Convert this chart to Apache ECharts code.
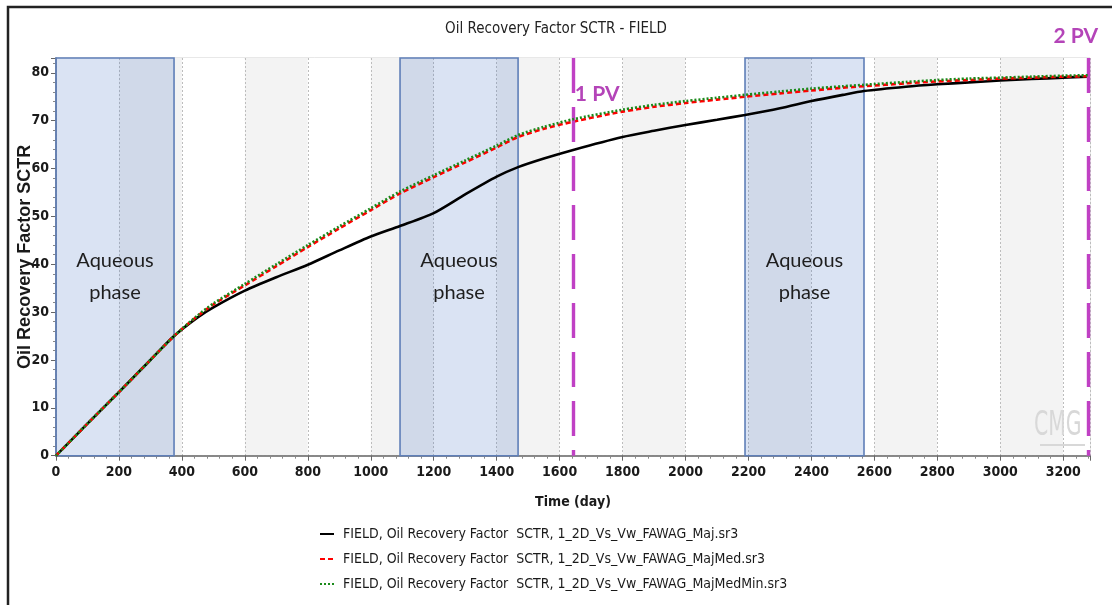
<!DOCTYPE html>
<html><head><meta charset="utf-8">
<script src="https://cdn.jsdelivr.net/npm/echarts@6/dist/echarts.min.js"></script>
<style>html,body{margin:0;padding:0;background:#fff}#c{width:1112px;height:605px}</style>
</head><body><div id="c"></div>
<script>
// ---- data ----
const days = [0,100,200,300,375,450,500,600,700,800,900,1000,1093,1200,1300,1400,1468,1550,1643,1800,1900,2000,2100,2189,2300,2400,2500,2567,2700,2800,2900,3000,3100,3200,3278];
const majValues = [0,6.7,13.3,20.0,25.0,28.9,31.0,34.5,37.3,39.9,42.9,45.8,48.0,50.7,54.6,58.3,60.3,62.1,63.9,66.6,67.9,69.1,70.2,71.2,72.6,74.1,75.4,76.2,77.1,77.6,78.0,78.4,78.7,79.0,79.2];
const majMedValues = [0,6.7,13.3,20.0,25.0,29.2,31.6,35.6,39.6,43.6,47.5,51.3,54.8,58.2,61.3,64.4,66.6,68.3,69.8,71.9,72.9,73.7,74.4,75.0,75.7,76.3,76.9,77.2,77.8,78.2,78.5,78.8,79.0,79.2,79.3];
const majMedMinValues = [0,6.7,13.3,20.0,25.0,29.3,31.8,35.9,40.0,44.0,47.9,51.7,55.2,58.6,61.7,64.8,67.0,68.7,70.3,72.3,73.3,74.1,74.8,75.4,76.1,76.7,77.2,77.5,78.1,78.5,78.8,79.0,79.2,79.4,79.5];
const seriesNames = [
  'FIELD, Oil Recovery Factor  SCTR, 1_2D_Vs_Vw_FAWAG_Maj.sr3',
  'FIELD, Oil Recovery Factor  SCTR, 1_2D_Vs_Vw_FAWAG_MajMed.sr3',
  'FIELD, Oil Recovery Factor  SCTR, 1_2D_Vs_Vw_FAWAG_MajMedMin.sr3'
];
const aqueousPhases = [[0,375],[1093,1468],[2189,2567]];
const aqueousLabel = 'Aqueous\nphase';
const pvMarkers = [{day:1643,label:'1 PV'},{day:3278,label:'2 PV'}];
const titleText = 'Oil Recovery Factor SCTR - FIELD';
const xName = 'Time (day)';
const yName = 'Oil Recovery Factor SCTR';
const xMin = 0, xMax = 3285, xStep = 200;
const yMin = 0, yMax = 83.1, yStep = 10;

// ---- chart ----
const NARROW = "'Liberation Sans Narrow','Arial Narrow','DejaVu Sans Condensed',sans-serif";
const chart = echarts.init(document.getElementById('c'), null, {renderer:'canvas'});
const pair = (arr) => days.map((d,i)=>[d,arr[i]]);
const lineColors = ['#000000','#ff0000','#1a8a1a'];
const lineTypes = ['solid',[5,3],[2,2]];
const vals = [majValues, majMedValues, majMedMinValues];

const series = [{
  type:'line', name:'_boxes', data:[[0,0]], symbol:'none', silent:true, z:1,
  lineStyle:{opacity:0},
  markArea:{
    silent:true,
    itemStyle:{color:'rgba(68,114,196,0.2)', borderColor:'#5f7fb8', borderWidth:1.6},
    label:{show:true, position:'inside', offset:[0,20], color:'#1e1e1e', fontFamily:'Lato, sans-serif', fontSize:20, lineHeight:32},
    data: aqueousPhases.map(p=>[{xAxis:p[0], yAxis:yMin, name:aqueousLabel},{xAxis:p[1], yAxis:yMax}])
  }
}];
vals.forEach((v,i)=>series.push({
  type:'line', name:seriesNames[i], data:pair(v), symbol:'none', smooth:0.25, z:3+i,
  lineStyle:{color:lineColors[i], width:2.6, type:lineTypes[i]},
  itemStyle:{color:lineColors[i]}
}));
series.push({
  type:'line', name:'_pv', data:[[0,0]], symbol:'none', silent:true, z:10,
  lineStyle:{opacity:0},
  markLine:{
    silent:true, symbol:['none','none'], animation:false,
    lineStyle:{color:'#c040c4', width:3.4, type:[35,14]},
    label:{show:false},
    data: pvMarkers.map(m=>[{coord:[m.day,yMax]},{coord:[m.day,yMin]}])
  }
});

const plain = v => String(v);
const option = {
  animation:false,
  backgroundColor:'#ffffff',
  title:{text:titleText, left:'center', top:17, textStyle:{fontFamily:NARROW, fontSize:15, fontWeight:'normal', color:'#222'}},
  grid:{left:56, right:22, top:58, bottom:149.3, containLabel:false, outerBoundsMode:'none', show:true, borderColor:'#d0d0d0', borderWidth:1, backgroundColor:'#fff'},
  legend:{
    orient:'vertical', left:314, top:522, itemWidth:14, itemHeight:14, itemGap:11,
    data:seriesNames, selectedMode:false,
    itemStyle:{opacity:0},
    textStyle:{fontFamily:NARROW, fontSize:14, color:'#1a1a1a', padding:[0,0,0,4]}
  },
  xAxis:{
    type:'value', min:xMin, max:xMax, interval:xStep,
    name:xName, nameLocation:'middle', nameGap:40,
    nameTextStyle:{fontFamily:NARROW, fontSize:14, fontWeight:'bold', color:'#1a1a1a'},
    axisLine:{show:true, onZero:false, lineStyle:{color:'#666', width:1.5}},
    axisTick:{show:true, length:5, lineStyle:{color:'#666'}},
    minorTick:{show:true, splitNumber:5, length:3, lineStyle:{color:'#888'}},
    axisLabel:{showMaxLabel:false, margin:10, formatter:plain, fontFamily:NARROW, fontSize:14, fontWeight:'bold', color:'#1a1a1a'},
    splitLine:{show:true, lineStyle:{color:'#bdbdbd', type:[2,2], width:1}},
    splitArea:{show:true, areaStyle:{color:['#ffffff','#f3f3f3']}}
  },
  yAxis:{
    type:'value', min:yMin, max:yMax, interval:yStep,
    name:yName, nameLocation:'middle', nameGap:22, nameRotate:90, nameMoveOverlap:false,
    nameTextStyle:{fontFamily:"'Liberation Sans',Arial,sans-serif", fontSize:18, fontWeight:'bold', color:'#1a1a1a'},
    axisLine:{show:true, onZero:false, lineStyle:{color:'#777', width:1.5}},
    axisTick:{show:true, length:5, lineStyle:{color:'#666'}},
    minorTick:{show:true, splitNumber:5, length:3, lineStyle:{color:'#888'}},
    axisLabel:{showMaxLabel:false, margin:7, formatter:plain, fontFamily:NARROW, fontSize:14, fontWeight:'bold', color:'#1a1a1a'},
    splitLine:{show:true, lineStyle:{color:'#bdbdbd', type:[2,2], width:1}}
  },
  series: series
};
chart.setOption(option);

// labels for PV lines and decorations, positioned from the axis scales
const gridTop = 58;
const g = [
  {type:'rect', shape:{x:8, y:7, width:1300, height:800}, style:{fill:null, stroke:'#222', lineWidth:2.5}, silent:true, z:100},
  {type:'text', x:1034, y:409, scaleX:0.6, style:{text:'CMG', font:"34px 'DejaVu Sans', sans-serif", fill:'#d8d8d8'}, silent:true, z:2},
  {type:'line', shape:{x1:1040, y1:445, x2:1085, y2:445}, style:{stroke:'#d8d8d8', lineWidth:2}, silent:true, z:2}
];
const pvOffsets = [{dx:24, dy:36}, {dx:-12, dy:-22}];
pvMarkers.forEach((m,i)=>{
  const px = chart.convertToPixel({xAxisIndex:0}, m.day);
  g.push({type:'text', x:px+pvOffsets[i].dx, y:gridTop+pvOffsets[i].dy, z:50,
    style:{text:m.label, font:"bold 21px Lato, sans-serif", fill:'#b444b8', align:'center', verticalAlign:'middle'}});
});
chart.setOption({graphic:g});
</script>
</body></html>
